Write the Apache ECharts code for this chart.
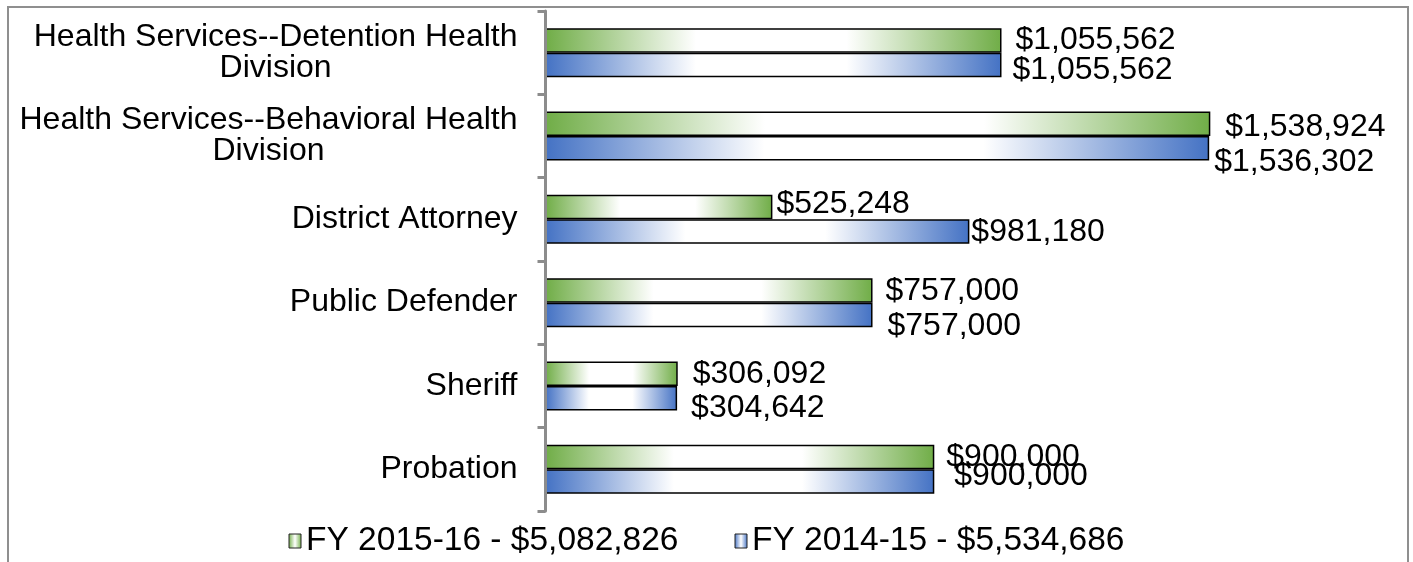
<!DOCTYPE html>
<html>
<head>
<meta charset="utf-8">
<script src="https://cdn.jsdelivr.net/npm/echarts@6/dist/echarts.min.js"></script>
<style>
html,body{margin:0;padding:0;background:#fff;}
#chart{width:1413px;height:562px;}
</style>
</head>
<body>
<div id="chart"></div>
<script>
// ---- data ----
var categories = [
  "Health Services--Detention Health\nDivision",
  "Health Services--Behavioral Health\nDivision",
  "District Attorney",
  "Public Defender",
  "Sheriff",
  "Probation"
];
var fy1516 = [1055562, 1538924, 525248, 757000, 306092, 900000];
var fy1415 = [1055562, 1536302, 981180, 757000, 304642, 900000];
var seriesNames = ["FY 2015-16 - $5,082,826", "FY 2014-15 - $5,534,686"];

// ---- label placement tweaks (style only) ----
var greenLabelShift = [[14, 0], [15, 3], [4, -3], [13, 1], [15, 0], [12, 0]];
var blueLabelShift  = [[11, 5], [5, 14], [2, 1], [15, 11], [14, 10], [20, -5]];

var FONT = "'Liberation Sans', Arial, sans-serif";
var GREEN = '#70ad47', BLUE = '#4472c4';

function grad(c, a, b) {
  return new echarts.graphic.LinearGradient(0, 0, 1, 0, [
    {offset: 0, color: c},
    {offset: a, color: '#ffffff'},
    {offset: b, color: '#ffffff'},
    {offset: 1, color: c}
  ]);
}
function money(v) {
  return '$' + Number(v).toLocaleString('en-US');
}
function buildData(vals, shifts) {
  return vals.map(function (v, i) {
    return {value: v, label: {offset: shifts[i]}};
  });
}

var chart = echarts.init(document.getElementById('chart'), null, {renderer: 'canvas'});

var labelStyle = {
  show: true,
  position: 'right',
  distance: 0,
  fontSize: 32,
  fontFamily: FONT,
  color: '#000',
  formatter: function (p) { return money(p.value); }
};

chart.setOption({
  animation: false,
  backgroundColor: '#ffffff',
  graphic: [{
    type: 'rect',
    z: 100,
    silent: true,
    shape: {x: 8, y: 7, width: 1400, height: 620},
    style: {fill: 'none', stroke: '#8f8f8f', lineWidth: 2}
  }],
  grid: {left: 545.5, top: 11, width: 864, height: 500, containLabel: false},
  legend: {
    top: 519,
    left: 'center',
    itemWidth: 12,
    itemHeight: 14,
    itemGap: 56,
    icon: 'rect',
    textStyle: {fontSize: 33.5, fontFamily: FONT, color: '#000'},
    data: [
      {name: seriesNames[0], itemStyle: {color: grad(GREEN, 0.5, 0.5), borderColor: '#222', borderWidth: 1}},
      {name: seriesNames[1], itemStyle: {color: grad(BLUE, 0.5, 0.5), borderColor: '#222', borderWidth: 1}}
    ]
  },
  xAxis: {
    type: 'value',
    min: 0,
    max: 2000000,
    show: false
  },
  yAxis: {
    type: 'category',
    inverse: true,
    data: categories,
    z: 5,
    axisLine: {show: true, lineStyle: {color: '#8c8c8c', width: 3}},
    axisTick: {show: true, length: 8, lineStyle: {color: '#8c8c8c', width: 3}},
    axisLabel: {
      margin: 28,
      fontSize: 32,
      fontFamily: FONT,
      color: '#000',
      lineHeight: 31,
      formatter: function (v) {
        if (v.indexOf('\n') < 0) return v;
        return v.split('\n').map(function (l) { return '{c|' + l + '}'; }).join('\n');
      },
      rich: {
        c: {align: 'center', fontSize: 32, fontFamily: FONT, color: '#000', lineHeight: 31}
      }
    },
    splitLine: {show: false}
  },
  series: [
    {
      name: seriesNames[0],
      type: 'bar',
      barWidth: 24.5,
      barGap: '0%',
      data: buildData(fy1516, greenLabelShift),
      itemStyle: {color: grad(GREEN, 0.33, 0.66), borderColor: '#000', borderWidth: 1.5},
      label: labelStyle
    },
    {
      name: seriesNames[1],
      type: 'bar',
      barWidth: 24.5,
      barGap: '0%',
      data: buildData(fy1415, blueLabelShift),
      itemStyle: {color: grad(BLUE, 0.33, 0.66), borderColor: '#000', borderWidth: 1.5},
      label: labelStyle
    }
  ]
});
</script>
</body>
</html>
